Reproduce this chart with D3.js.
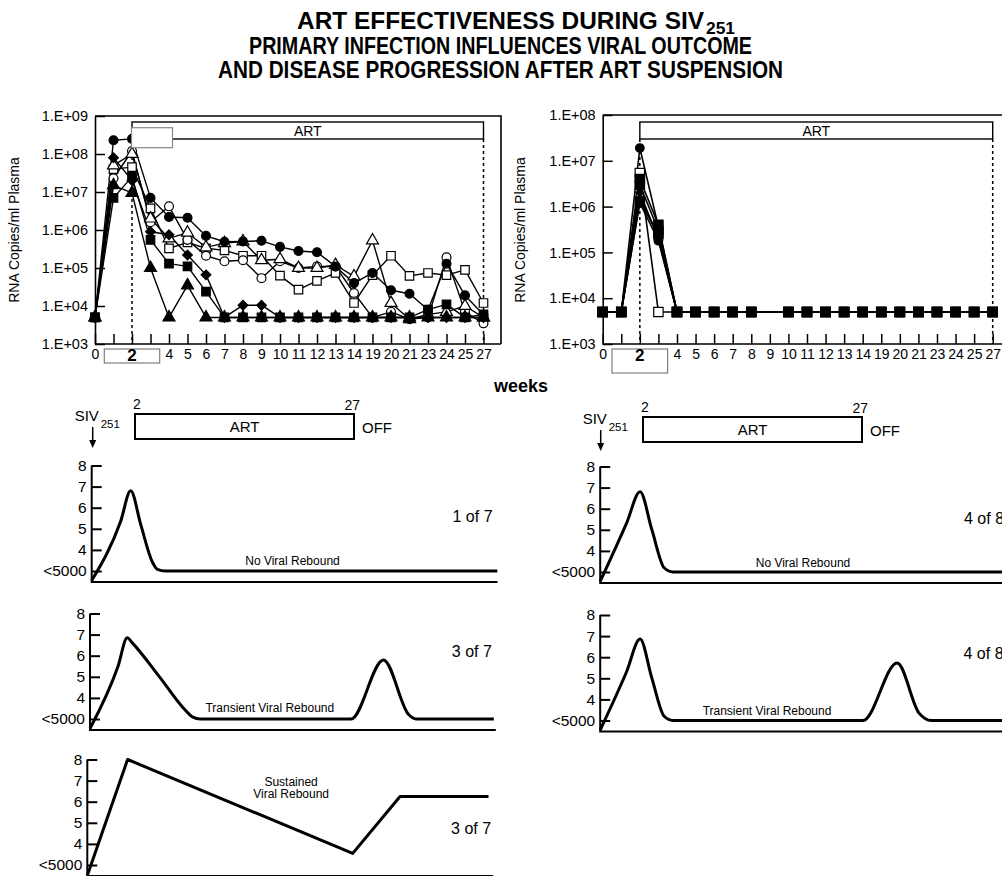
<!DOCTYPE html>
<html>
<head>
<meta charset="utf-8">
<script src="https://cdn.jsdelivr.net/npm/d3@7"></script>
<style>
  body { margin: 0; background: #fff; }
  svg { display: block; font-family: "Liberation Sans", Arial, Helvetica, sans-serif; }
</style>
</head>
<body>
<div id="fig"></div>
<script>
// ---- data ----
// sampling weeks on the (categorical) x axis of the two upper plots
const weeks = [0, 1, 2, 3, 4, 5, 6, 7, 8, 9, 10, 11, 12, 13, 14, 19, 20, 21, 23, 24, 25, 27]
const unlabeledWeeks = [1, 3]
const boxedWeek = 2
const artStart = 2
const artEnd = 27

const leftYTicks = [1e3, 1e4, 1e5, 1e6, 1e7, 1e8, 1e9]
const rightYTicks = [1e3, 1e4, 1e5, 1e6, 1e7, 1e8]

// left plot, 7 animals (RNA copies/ml)
const leftOpenSquare    = [5e3, 4e7, 4.5e7, 3.7e6, 3.3e5, 4.7e5, 3.3e5, 2.9e5, 2.1e5, 2.1e5, 6.3e4, 2.7e4, 4.6e4, 7.4e4, 1.2e4, 6.5e4, 2.1e5, 6.2e4, 7.4e4, 6.5e4, 8.9e4, 1.2e4]
const leftOpenCircle    = [5e3, 2.3e7, 1.2e8, 1.6e6, 4.2e6, 5.5e5, 2.1e5, 1.5e5, 1.6e5, 5.4e4, 1.5e5, 1e5, 1.1e5, 1.1e5, 2.2e4, 5e3, 7e3, 4.5e3, 5e3, 1.9e5, 7e3, 3.5e3]
const leftOpenTriangle  = [5e3, 5e7, 1e8, 2e6, 6e5, 8.5e5, 3.5e5, 4.5e5, 5e5, 1.6e5, 1.7e5, 1e5, 1e5, 1.2e5, 6e4, 5.3e5, 1.2e4, 4.5e3, 6e3, 7e3, 1e4, 5e3]
const leftFilledSquare  = [5e3, 7e6, 2.5e7, 5.5e5, 1.3e5, 1.1e5, 2.4e4, 5e3, 5e3, 5e3, 5e3, 5e3, 5e3, 5e3, 5e3, 5e3, 5e3, 5e3, 8e3, 1.1e4, 5e3, 6e3]
const leftFilledDiamond = [5e3, 8e7, 2e7, 9e5, 7.5e5, 2.2e5, 6.6e4, 5e3, 1.05e4, 1.05e4, 5e3, 5e3, 5e3, 5e3, 5e3, 5e3, 5e3, 5e3, 5e3, 5e3, 5e3, 5e3]
const leftFilledTriangle= [5e3, 1.5e7, 9.5e6, 1e5, 5e3, 3.5e4, 5e3, 5e3, 5e3, 5e3, 5e3, 5e3, 5e3, 5e3, 5e3, 5e3, 5e3, 5e3, 5e3, 5e3, 5e3, 5e3]
const leftFilledCircle  = [5e3, 2.3e8, 2.5e8, 7e6, 2.2e6, 2.1e6, 7e5, 4.9e5, 5e5, 5.2e5, 3.6e5, 2.8e5, 2.6e5, 1.1e5, 4e4, 7.4e4, 2.6e4, 2.1e4, 8e3, 1.3e5, 1.9e4, 5.9e3]

// right plot, 8 animals (no sample at week 9)
const rightOpenSquare    = [5e3, 5e3, 5.4e6, 5e3, 5e3, 5e3, 5e3, 5e3, 5e3, null, 5e3, 5e3, 5e3, 5e3, 5e3, 5e3, 5e3, 5e3, 5e3, 5e3, 5e3, 5e3]
const rightOpenCircle    = [5e3, 5e3, 1.6e6, 2.2e5, 5e3, 5e3, 5e3, 5e3, 5e3, null, 5e3, 5e3, 5e3, 5e3, 5e3, 5e3, 5e3, 5e3, 5e3, 5e3, 5e3, 5e3]
const rightFilledSquareC = [5e3, 5e3, 1.3e6, 2.5e5, 5e3, 5e3, 5e3, 5e3, 5e3, null, 5e3, 5e3, 5e3, 5e3, 5e3, 5e3, 5e3, 5e3, 5e3, 5e3, 5e3, 5e3]
const rightFilledDiamond = [5e3, 5e3, 2e6, 2e5, 5e3, 5e3, 5e3, 5e3, 5e3, null, 5e3, 5e3, 5e3, 5e3, 5e3, 5e3, 5e3, 5e3, 5e3, 5e3, 5e3, 5e3]
const rightFilledCircleB = [5e3, 5e3, 1.2e6, 1.8e5, 5e3, 5e3, 5e3, 5e3, 5e3, null, 5e3, 5e3, 5e3, 5e3, 5e3, 5e3, 5e3, 5e3, 5e3, 5e3, 5e3, 5e3]
const rightFilledCircle  = [5e3, 5e3, 1.9e7, 3.6e5, 5e3, 5e3, 5e3, 5e3, 5e3, null, 5e3, 5e3, 5e3, 5e3, 5e3, 5e3, 5e3, 5e3, 5e3, 5e3, 5e3, 5e3]
const rightFilledSquareB = [5e3, 5e3, 4e6, 4e5, 5e3, 5e3, 5e3, 5e3, 5e3, null, 5e3, 5e3, 5e3, 5e3, 5e3, 5e3, 5e3, 5e3, 5e3, 5e3, 5e3, 5e3]
const rightFilledSquare  = [5e3, 5e3, 3e6, 3e5, 5e3, 5e3, 5e3, 5e3, 5e3, null, 5e3, 5e3, 5e3, 5e3, 5e3, 5e3, 5e3, 5e3, 5e3, 5e3, 5e3, 5e3]

// schematic panels: [week, log10 level] (level 3 = "<5000")
const schemTicks = [3, 4, 5, 6, 7, 8]
const noRebound       = [[-3, 2.55], [0.3, 5.35], [1.45, 6.8], [2.6, 5.2], [3.9, 3.45], [4.5, 3.08], [5.4, 3], [43.3, 3]]
const transient       = [[-3, 2.55], [0.2, 5.5], [1.25, 6.85], [1.8, 6.62], [5, 4.96], [7.6, 3.55], [8.7, 3.1], [9.6, 3], [26.8, 3], [30.5, 5.8], [33.4, 3.2], [34.2, 3], [43.1, 3]]
const sustained       = [[-3, 2.5], [1.6, 8], [27.3, 3.55], [32.7, 6.25], [42.8, 6.25]]
const noReboundRight  = [[-3, 2.55], [0, 5.3], [1.55, 6.8], [2.9, 5.0], [4.3, 3.2], [5.3, 3], [45, 3]]
const transientRight  = [[-3, 2.55], [0, 5.3], [1.55, 6.86], [2.9, 5.0], [4.3, 3.2], [5.3, 3], [27, 3], [30.9, 5.72], [33.4, 3.35], [34.8, 3], [45, 3]]

// ---- drawing ----
const svg = d3.select("#fig").append("svg").attr("width", 1002).attr("height", 876)

// title
const title = svg.append("g").attr("font-weight", "bold").attr("fill", "#000")
title.append("text").attr("x", 297).attr("y", 29).attr("font-size", 24)
  .attr("textLength", 407).attr("lengthAdjust", "spacingAndGlyphs").text("ART EFFECTIVENESS DURING SIV")
title.append("text").attr("x", 706).attr("y", 34).attr("font-size", 16)
  .attr("textLength", 29).attr("lengthAdjust", "spacingAndGlyphs").text("251")
title.append("text").attr("x", 249).attr("y", 54).attr("font-size", 24)
  .attr("textLength", 503).attr("lengthAdjust", "spacingAndGlyphs").text("PRIMARY INFECTION INFLUENCES VIRAL OUTCOME")
title.append("text").attr("x", 218).attr("y", 78).attr("font-size", 24)
  .attr("textLength", 565).attr("lengthAdjust", "spacingAndGlyphs").text("AND DISEASE PROGRESSION AFTER ART SUSPENSION")

const shapes = {
  circle: d3.symbolCircle,
  square: d3.symbolSquare,
  triangle: d3.symbolTriangle,
  diamond: d3.symbolDiamond2 || d3.symbolDiamond
}

function drawTop(cfg) {
  const x = d3.scalePoint().domain(weeks).range(cfg.xRange)
  const y = d3.scaleLog().domain(cfg.yDomain).range([344, cfg.yTop])
  const step = x.step()
  const g = svg.append("g")

  // frame
  g.append("path")
    .attr("d", `M${cfg.xRange[0]},${cfg.yTop}H${cfg.frameRight}` + (cfg.closeRight ? `V344` : "") +
               `M${cfg.xRange[0]},344H${cfg.frameRight}`)
    .attr("fill", "none").attr("stroke", "#000").attr("stroke-width", 1.6)

  // x axis (ticks point up)
  const xa = g.append("g").attr("transform", "translate(0,344)")
    .call(d3.axisBottom(x).tickSizeInner(-10).tickSizeOuter(0).tickPadding(5)
      .tickFormat(d => (unlabeledWeeks.includes(d) || d === boxedWeek) ? "" : d))
  xa.select(".domain").remove()
  xa.selectAll("line").attr("stroke-width", 1.5)
  xa.selectAll("text").attr("font-size", 14).attr("fill", "#000").attr("font-family", null)

  // boxed "2"
  g.append("rect")
    .attr("x", x(0) + step / 2).attr("y", 349)
    .attr("width", x(3) - x(0)).attr("height", cfg.boxBottom - 349)
    .attr("fill", "none").attr("stroke", "#666").attr("stroke-width", 1)
  g.append("text").attr("x", x(boxedWeek)).attr("y", 361).attr("text-anchor", "middle")
    .attr("font-size", 17).attr("font-weight", "bold").text(boxedWeek)

  // y axis (ticks point right)
  const ya = g.append("g").attr("transform", `translate(${cfg.xRange[0]},0)`)
    .call(d3.axisLeft(y).tickValues(cfg.yTicks).tickSizeInner(-10).tickSizeOuter(0).tickPadding(7)
      .tickFormat(d => "1.E+0" + Math.round(Math.log10(d))))
  ya.select(".domain").attr("stroke-width", 1.6)
  ya.selectAll("line").attr("stroke-width", 1.5)
  ya.selectAll("text").attr("font-size", 14.5).attr("fill", "#000").attr("font-family", null)

  g.append("text")
    .attr("transform", `translate(${cfg.titleX},230) rotate(-90)`)
    .attr("text-anchor", "middle").attr("font-size", 14).text("RNA Copies/ml Plasma")

  // ART bar and dashed on/off lines
  g.append("rect").attr("x", x(artStart)).attr("y", 122)
    .attr("width", x(artEnd) - x(artStart)).attr("height", 17)
    .attr("fill", "#fff").attr("stroke", "#000").attr("stroke-width", 1.4)
  g.append("text").attr("x", (x(artStart) + x(artEnd)) / 2).attr("y", 136)
    .attr("text-anchor", "middle").attr("font-size", 14).text("ART")
  g.selectAll(".onoff").data([artStart, artEnd]).join("line")
    .attr("x1", d => x(d)).attr("x2", d => x(d)).attr("y1", 139).attr("y2", 344)
    .attr("stroke", "#000").attr("stroke-width", 1.5).attr("stroke-dasharray", "3,3")

  // series
  const line = d3.line().x(d => x(d.w)).y(d => y(d.v))
  const series = cfg.series.map(s => ({
    ...s, pts: s.values.map((v, i) => ({ w: weeks[i], v })).filter(d => d.v != null)
  }))
  g.selectAll(".ln").data(series).join("path")
    .attr("d", d => line(d.pts)).attr("fill", "none")
    .attr("stroke", "#000").attr("stroke-width", cfg.lineWidth).attr("stroke-linejoin", "round")

  series.forEach(s => {
    g.append("g").selectAll("path").data(s.pts).join("path")
      .attr("transform", d => `translate(${x(d.w)},${y(d.v)})`)
      .attr("d", d3.symbol(shapes[s.shape], cfg.sizes[s.shape]))
      .attr("fill", s.filled ? "#000" : "#fff")
      .attr("stroke", "#000").attr("stroke-width", 1.2)
  })

  // blank label box sitting over the week-2 peak (as in the original scan)
  if (cfg.mask) {
    g.append("rect").attr("x", cfg.mask[0]).attr("y", cfg.mask[1])
      .attr("width", cfg.mask[2]).attr("height", cfg.mask[3])
      .attr("fill", "#fff").attr("stroke", "#888").attr("stroke-width", 1.2)
  }
}

drawTop({
  xRange: [95, 483.5], yDomain: [1e3, 1e9], yTop: 116, yTicks: leftYTicks,
  frameRight: 501, closeRight: true, boxBottom: 363, titleX: 19, lineWidth: 1.4,
  mask: [131.5, 127.7, 41, 20],
  sizes: { circle: 62, square: 72, triangle: 62, diamond: 60 },
  series: [
    { values: leftOpenSquare, shape: "square", filled: false },
    { values: leftOpenCircle, shape: "circle", filled: false },
    { values: leftOpenTriangle, shape: "triangle", filled: false },
    { values: leftFilledSquare, shape: "square", filled: true },
    { values: leftFilledDiamond, shape: "diamond", filled: true },
    { values: leftFilledTriangle, shape: "triangle", filled: true },
    { values: leftFilledCircle, shape: "circle", filled: true }
  ]
})

drawTop({
  xRange: [602.7, 992.7], yDomain: [1e3, 1e8], yTop: 115, yTicks: rightYTicks,
  frameRight: 1002, closeRight: false, boxBottom: 373, titleX: 525, lineWidth: 1.6,
  sizes: { circle: 58, square: 88, triangle: 50, diamond: 45 },
  series: [
    { values: rightOpenSquare, shape: "square", filled: false },
    { values: rightOpenCircle, shape: "circle", filled: false },
    { values: rightFilledSquareC, shape: "square", filled: true },
    { values: rightFilledDiamond, shape: "diamond", filled: true },
    { values: rightFilledCircleB, shape: "circle", filled: true },
    { values: rightFilledCircle, shape: "circle", filled: true },
    { values: rightFilledSquareB, shape: "square", filled: true },
    { values: rightFilledSquare, shape: "square", filled: true }
  ]
})

svg.append("text").attr("x", 521).attr("y", 392).attr("text-anchor", "middle")
  .attr("font-size", 18).attr("font-weight", "bold").text("weeks")

// ---- schematic panels ----
const xs = d3.scaleLinear().domain([artStart, artEnd]).range([135, 354])

function drawHeader(dx, dy) {
  const g = svg.append("g").attr("transform", `translate(${dx},${dy})`)
  const ax = xs(-3) + 1.5
  g.append("text").attr("x", ax - 18).attr("y", 421).attr("font-size", 15).text("SIV")
  g.append("text").attr("x", ax + 8).attr("y", 428).attr("font-size", 11.5).text("251")
  g.append("line").attr("x1", ax).attr("x2", ax).attr("y1", 427).attr("y2", 442)
    .attr("stroke", "#000").attr("stroke-width", 1.5)
  g.append("path").attr("d", `M${ax - 3.5},440L${ax + 3.5},440L${ax},448Z`).attr("fill", "#000")
  g.append("rect").attr("x", xs(artStart)).attr("y", 414)
    .attr("width", xs(artEnd) - xs(artStart)).attr("height", 25)
    .attr("fill", "none").attr("stroke", "#000").attr("stroke-width", 2)
  g.append("text").attr("x", xs(artStart) - 2).attr("y", 409).attr("font-size", 14).text(artStart)
  g.append("text").attr("x", xs(artEnd) + 6).attr("y", 410).attr("text-anchor", "end").attr("font-size", 14).text(artEnd)
  g.append("text").attr("x", (xs(artStart) + xs(artEnd)) / 2).attr("y", 432)
    .attr("text-anchor", "middle").attr("font-size", 15).text("ART")
  g.append("text").attr("x", xs(artEnd) + 8).attr("y", 433).attr("font-size", 15).text("OFF")
}

function drawPanel(p) {
  const g = svg.append("g").attr("transform", `translate(${p.dx},0)`)
  const ys = d3.scaleLinear().domain([3, 8]).range([p.base, p.base - 105.5])
  const x0 = xs(-3)
  const bottom = ys(2.48)

  const ya = g.append("g").attr("transform", `translate(${x0},0)`)
    .call(d3.axisLeft(ys).tickValues(schemTicks).tickSizeInner(-10).tickSizeOuter(0).tickPadding(5)
      .tickFormat(d => d === 3 ? "<5000" : d))
  ya.select(".domain").remove()
  ya.selectAll("line").attr("stroke-width", 2)
  ya.selectAll("text").attr("font-size", 15.5).attr("fill", "#000").attr("font-family", null)

  g.append("path").attr("d", `M${x0},${ys(8)}V${bottom}H${p.right}`)
    .attr("fill", "none").attr("stroke", "#000").attr("stroke-width", 2)

  g.append("path").datum(p.points)
    .attr("d", d3.line().x(d => xs(d[0])).y(d => ys(d[1])).curve(p.curve))
    .attr("fill", "none").attr("stroke", "#000").attr("stroke-width", 3)
    .attr("stroke-linejoin", "round")

  p.labels.forEach((t, i) => {
    g.append("text").attr("x", p.labelX).attr("y", p.labelY + i * 12)
      .attr("text-anchor", "middle").attr("font-size", 12).text(t)
  })
  g.append("text").attr("x", p.countX).attr("y", p.countY).attr("font-size", 16).text(p.count)
}

drawHeader(0, 0)
drawHeader(508, 3)

drawPanel({ dx: 0.5, base: 571, right: 497, points: noRebound, curve: d3.curveMonotoneX,
  labels: ["No Viral Rebound"], labelX: 292, labelY: 565, count: "1 of 7", countX: 452, countY: 521.5 })
drawPanel({ dx: -1.2, base: 719, right: 497, points: transient, curve: d3.curveMonotoneX,
  labels: ["Transient Viral Rebound"], labelX: 271, labelY: 711.5, count: "3 of 7", countX: 453, countY: 657 })
drawPanel({ dx: -3.9, base: 865, right: 497, points: sustained, curve: d3.curveLinear,
  labels: ["Sustained", "Viral Rebound"], labelX: 295, labelY: 785.5, count: "3 of 7", countX: 455, countY: 834 })

drawPanel({ dx: 509, base: 572, right: 1002, points: noReboundRight, curve: d3.curveMonotoneX,
  labels: ["No Viral Rebound"], labelX: 294, labelY: 566.5, count: "4 of 8", countX: 455, countY: 524 })
drawPanel({ dx: 509, base: 720.5, right: 1002, points: transientRight, curve: d3.curveMonotoneX,
  labels: ["Transient Viral Rebound"], labelX: 258, labelY: 714.5, count: "4 of 8", countX: 454.5, countY: 659 })
</script>
</body>
</html>
